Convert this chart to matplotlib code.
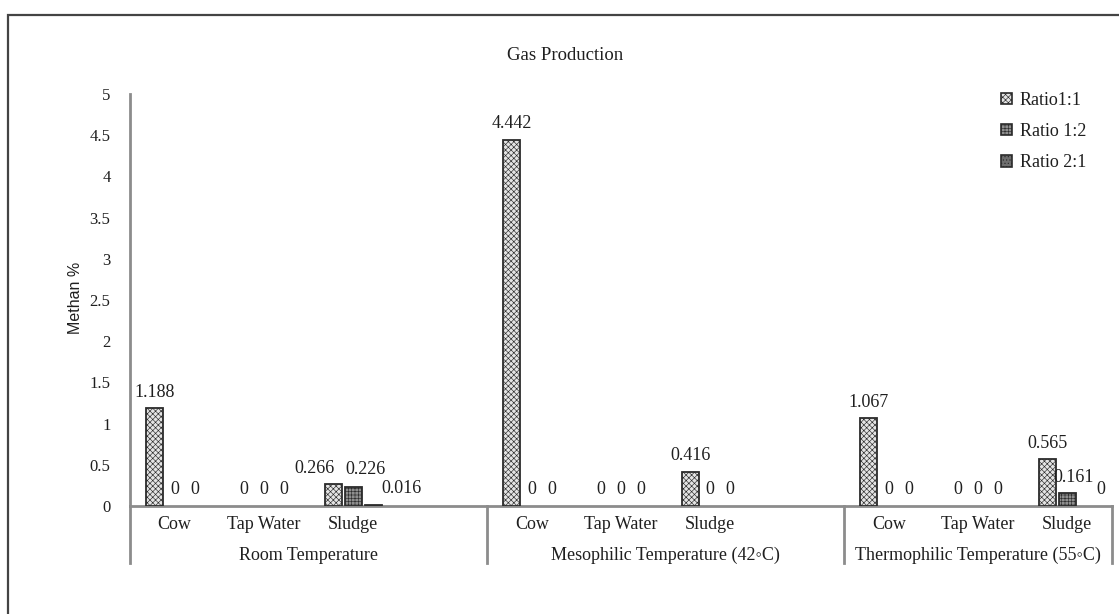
import numpy as np
import matplotlib.pyplot as plt
from matplotlib.patches import Patch, Rectangle

plt.rcParams['font.family'] = ['Liberation Serif', 'DejaVu Sans']
plt.rcParams['hatch.linewidth'] = 0.45

# data (11 category slots, the 4th and 8th are empty gaps like in the excel chart)
groups = ['Room Temperature', 'Mesophilic Temperature (42◦C)', 'Thermophilic Temperature (55◦C)']
group_sizes = [4, 4, 3]
categories = ['Cow', 'Tap Water', 'Sludge', '', 'Cow', 'Tap Water', 'Sludge', '', 'Cow', 'Tap Water', 'Sludge']
series = ['Ratio1:1', 'Ratio 1:2', 'Ratio 2:1']
nan = np.nan
ratio_1_1 = [1.188, 0, 0.266, nan, 4.442, 0, 0.416, nan, 1.067, 0, 0.565]
ratio_1_2 = [0, 0, 0.226, nan, 0, 0, 0, nan, 0, 0, 0.161]
ratio_2_1 = [0, 0, 0.016, nan, 0, 0, 0, nan, 0, 0, 0]
values = [ratio_1_1, ratio_1_2, ratio_2_1]

styles = [
    dict(facecolor='#e4e4e4', hatch='xxxxxx', edgecolor='#2b2b2b'),
    dict(facecolor='#8e8e8e', hatch='+++++', edgecolor='#2b2b2b'),
    dict(facecolor='#6e6e6e', hatch='.....', edgecolor='#2b2b2b'),
]
offsets = [-0.223, 0.0, 0.223]
# label nudges in pixels where excel moved labels to avoid overlaps
nudges = {(0, 2): (-19, 0), (1, 2): (12, 2), (2, 2): (28, 0), (1, 10): (6, -1), (2, 10): (14, 0)}

txt = '#1f1f1f'
axc = '#8c8c8c'

fig = plt.figure(figsize=(11.19, 6.14), dpi=100)
ax = fig.add_axes([130 / 1119, 108 / 614, 982 / 1119, 412 / 614])

x = np.arange(len(categories))
for j, vals in enumerate(values):
    v = np.array(vals, dtype=float)
    h = np.where(v > 0, v, nan)
    ax.bar(x + offsets[j], h, width=0.19, linewidth=1.3, zorder=3, **styles[j])
    for i, val in enumerate(v):
        if np.isnan(val):
            continue
        dx, dy = nudges.get((j, i), (0, 0))
        ax.annotate(f'{val:g}', (x[i] + offsets[j], val), xytext=(dx, 16 + dy),
                    textcoords='offset pixels', ha='center', va='center',
                    fontsize=13, color=txt, zorder=4)

ax.set_xlim(-0.5, len(categories) - 0.5)
ax.set_ylim(0, 5)
ax.set_yticks(np.arange(0, 5.01, 0.5))
ax.set_yticklabels([f'{t:g}' for t in np.arange(0, 5.01, 0.5)])
ax.set_xticks([])
ax.tick_params(axis='y', length=0, pad=14, labelsize=12, labelcolor=txt)
for s in ['top', 'right']:
    ax.spines[s].set_visible(False)
for s in ['left', 'bottom']:
    ax.spines[s].set_color(axc)
    ax.spines[s].set_linewidth(2)

# multi level category axis
tr = ax.get_xaxis_transform()
for i, c in enumerate(categories):
    ax.text(x[i], -0.046, c, transform=tr, ha='center', va='center', fontsize=13, color=txt)
edges = np.concatenate([[0], np.cumsum(group_sizes)]) - 0.5
for e in edges:
    ax.plot([e, e], [0, -0.138], transform=tr, color=axc, lw=2, clip_on=False)
for k, g in enumerate(groups):
    ax.text((edges[k] + edges[k + 1]) / 2, -0.119, g, transform=tr, ha='center', va='center',
            fontsize=13, color=txt)

handles = [Patch(label=series[j], linewidth=1.2, **styles[j]) for j in range(3)]
fig.legend(handles=handles, loc='upper left', bbox_to_anchor=(992 / 1119, 1 - 83 / 614),
           frameon=False, fontsize=13, handlelength=0.6, handleheight=0.6,
           handletextpad=0.45, labelspacing=0.78, borderpad=0, labelcolor=txt)

fig.text(75 / 1119, 1 - 298 / 614, 'Methan %', rotation=90, ha='center', va='center',
         family='Liberation Sans', fontsize=11.5, color=txt)
fig.text(565 / 1119, 1 - 55 / 614, 'Gas Production', ha='center', va='center',
         fontsize=13.5, color=txt)

# outer chart frame (cut off at right and bottom in the picture)
fig.patches.append(Rectangle((8 / 1119, -0.05), 1.1, 1 - 15 / 614 + 0.05, transform=fig.transFigure,
                             fill=False, edgecolor='#444444', lw=1.6))

fig.savefig('out.png', dpi=100)
